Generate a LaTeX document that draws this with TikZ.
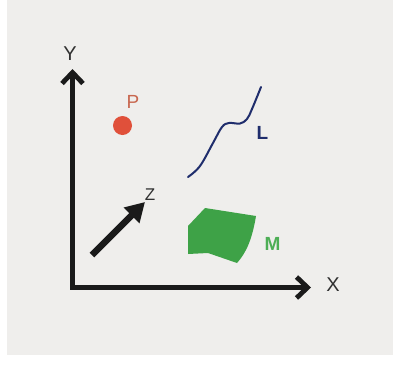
\documentclass[tikz,border=0pt]{standalone}
\usepackage{fontspec}
\setmainfont{Liberation Sans}
\usetikzlibrary{positioning, arrows.meta}
\definecolor{paper}{HTML}{EFEEEC}
\definecolor{axis}{HTML}{1A1A1A}
\definecolor{pointred}{HTML}{E0503A}
\definecolor{pointlbl}{HTML}{C8674F}
\definecolor{linenavy}{HTML}{1F2D6C}
\definecolor{areagreen}{HTML}{3EA247}
\definecolor{arealbl}{HTML}{4DAE55}

\begin{document}
\begin{tikzpicture}[
  x=1pt, y=-1pt,
  font=\fontsize{20}{22}\selectfont,
  lbl/.style={inner sep=0pt, text=axis!90},
  ax/.style={line width=4.8pt, axis, line join=miter,
    {Straight Barb[length=11pt, width=21pt, line width=4.8pt]}-{Straight Barb[length=11pt, width=21pt, line width=4.8pt]}},
  zarr/.style={line width=6.5pt, axis,
    -{Triangle[length=19pt, width=21pt]}}
]
  % paper
  \fill[white] (0,0) rectangle (393,365);
  \fill[paper] (7,0) rectangle (393,355);
  \useasboundingbox (0,0) rectangle (393,365);

  % axes
  \coordinate (orig) at (72.5,287.5);
  \coordinate (ytip) at (72.5,69);
  \coordinate (xtip) at (311,287.5);
  \draw[ax] (ytip) -- (orig) -- (xtip);
  \node[lbl] (ylbl) at (70,54) {Y};
  \node[lbl] (xlbl) at (333,285) {X};

  % z direction
  \coordinate (ztail) at (92,255);
  \coordinate (ztip) at (145,202);
  \draw[zarr] (ztail) -- (ztip);
  \node[lbl, font=\fontsize{17}{19}\selectfont] (zlbl) at (150,195) {Z};

  % point
  \node[circle, fill=pointred, minimum size=19pt, inner sep=0pt] (pdot) at (122.5,125.5) {};
  \node[lbl, text=pointlbl, font=\fontsize{19}{21}\selectfont] (plbl) at (133,101.5) {P};

  % line
  \draw[linenavy, line width=2pt, line cap=round]
    plot[smooth, tension=0.6] coordinates {(188,177) (200,166) (213,143)
      (222,127) (229,123) (240,123.5) (247,119) (252,109) (261,87)};
  \node[lbl, text=linenavy, font=\fontsize{19}{21}\selectfont\bfseries] (llbl) at (262.5,132.5) {L};

  % area
  \fill[areagreen] (188,226) -- (205,208) -- (256,216)
    .. controls (252,240) and (246,253) .. (237,263)
    -- (208,253) -- (188,254) -- cycle;
  \node[lbl, text=arealbl, font=\fontsize{19}{21}\selectfont\bfseries] (mlbl) at (272.5,243.5) {M};
\end{tikzpicture}
\end{document}
